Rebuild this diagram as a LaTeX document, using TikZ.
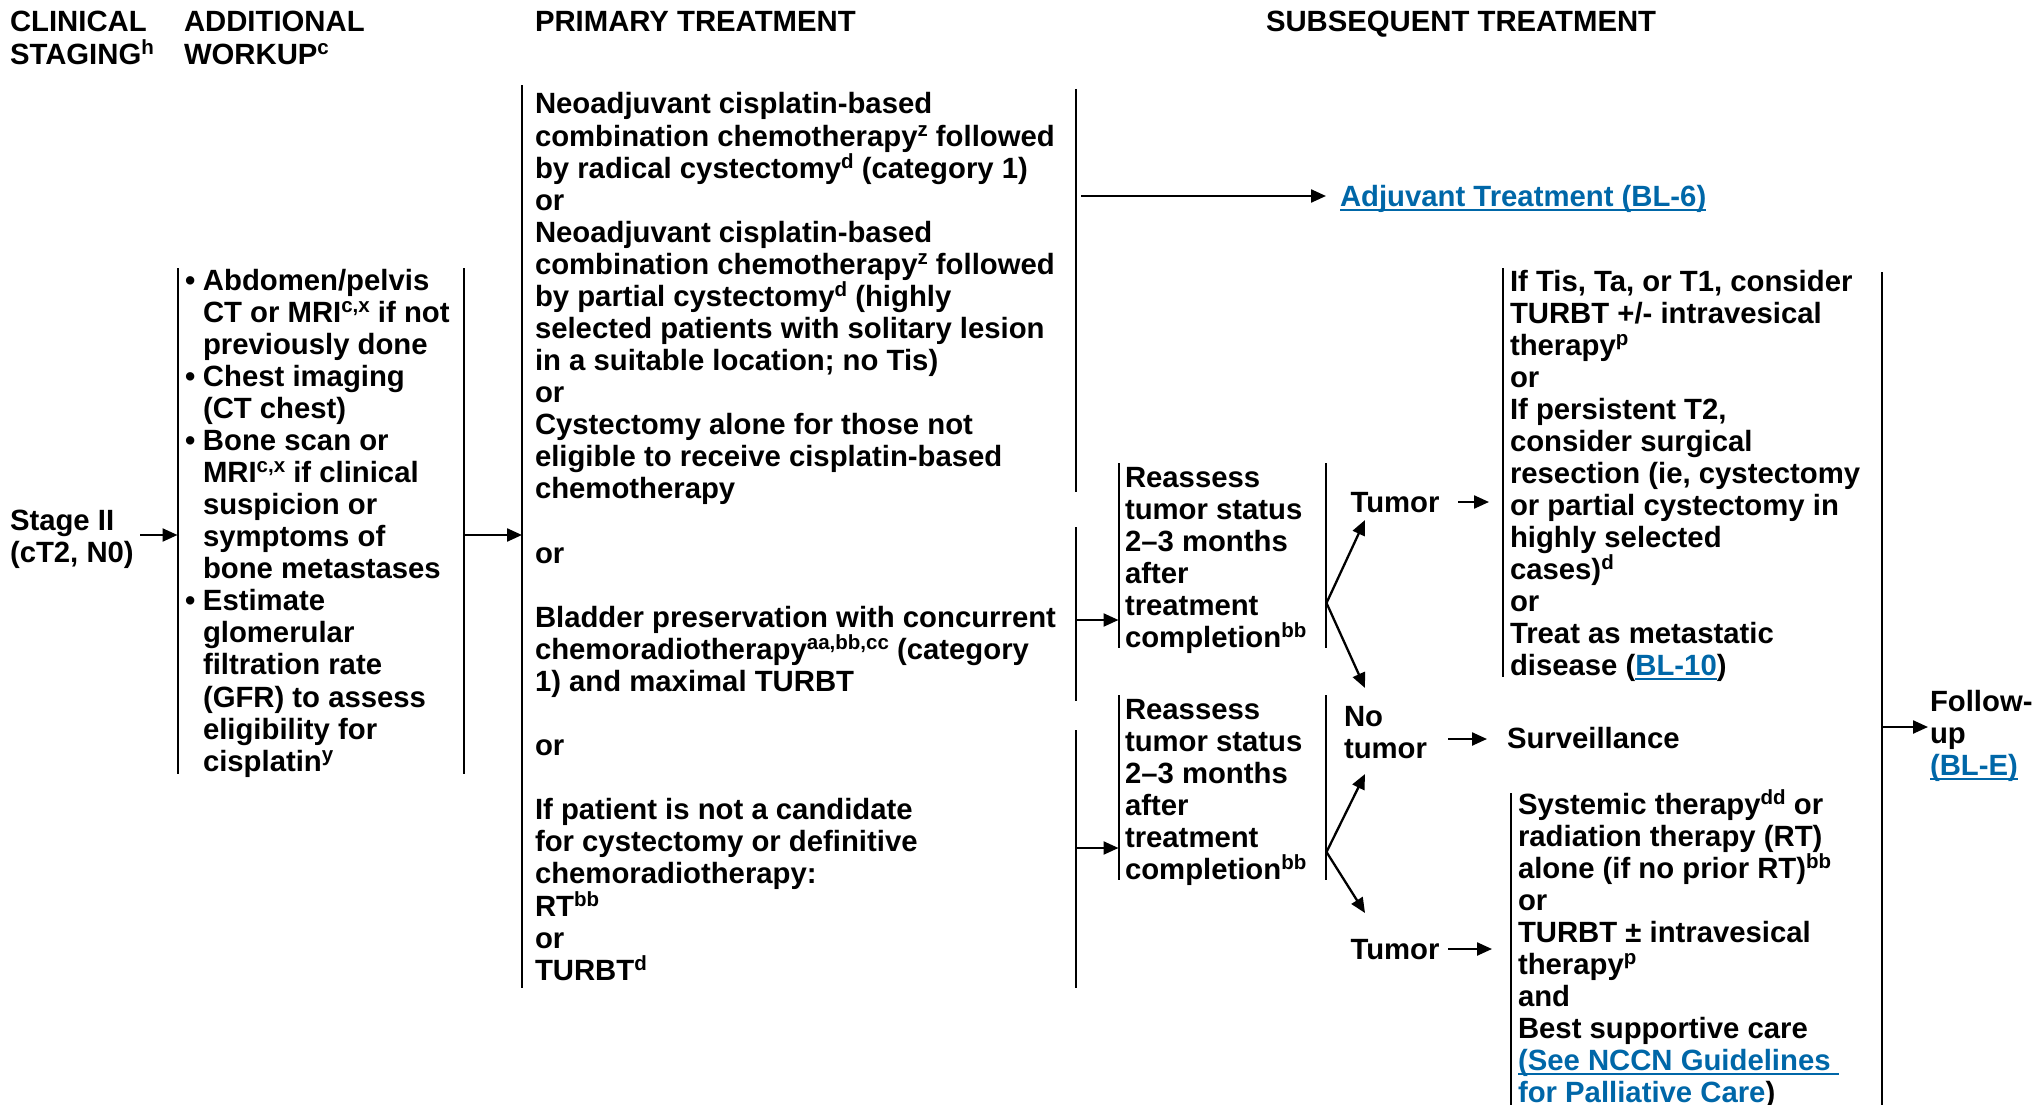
\documentclass[tikz,border=0pt]{standalone}
\usepackage{fontspec}
\setmainfont{Liberation Sans}
\usetikzlibrary{arrows.meta}
\definecolor{linkblue}{RGB}{0,103,168}
\newcommand\lnk[1]{\leavevmode{\color{linkblue}\setbox0=\hbox{#1}\rlap{\rule[-4.5pt]{\wd0}{2pt}}\box0}}
\newcommand\sps[1]{\raisebox{10pt}{\fontsize{20.5}{20}\selectfont #1}}
\newcommand\blk[2]{\parbox[t]{#1}{\raggedright\lineskiplimit=-40pt #2}}
\newcommand\ind{\hspace*{18pt}}
\newcommand\bul{\makebox[18pt][l]{•}}
\begin{document}
\begin{tikzpicture}[x=1pt,y=-1pt,
  every node/.style={inner sep=0pt,outer sep=0pt,anchor=base west,
    font=\bfseries\fontsize{29.3}{32.08}\selectfont},
  bar/.style={line width=2pt},
  arr/.style={line width=2.3pt,-{Triangle[length=15pt,width=13pt]}}]
\useasboundingbox (0,0) rectangle (2032,1105);

% headers
\node (hstage) at (10,32) {\blk{170pt}{CLINICAL\\STAGING\sps{h}}};
\node (hwork) at (184,32) {\blk{300pt}{ADDITIONAL\\WORKUP\sps{c}}};
\node (hprim) at (535,32) {PRIMARY TREATMENT};
\node (hsub) at (1266,32) {SUBSEQUENT TREATMENT};

% stage
\node (stage) at (10,530) {\blk{130pt}{Stage II\\(cT2, N0)}};

% workup
\coordinate (wkLt) at (177.5,268); \coordinate (wkLb) at (177.5,774);
\coordinate (wkRt) at (464,268);   \coordinate (wkRb) at (464,774);
\draw[bar] (wkLt) -- (wkLb);
\draw[bar] (wkRt) -- (wkRb);
\node (work) at (185,290) {\blk{320pt}{\bul Abdomen/pelvis\\\ind CT or MRI\sps{c,x} if not\\\ind previously done\\\bul Chest imaging\\\ind (CT chest)\\\bul Bone scan or\\\ind MRI\sps{c,x} if clinical\\\ind suspicion or\\\ind symptoms of\\\ind bone metastases\\\bul Estimate\\\ind glomerular\\\ind filtration rate\\\ind (GFR) to assess\\\ind eligibility for\\\ind cisplatin\sps{y}}};
\coordinate (wkIn) at (177.5,535);
\coordinate (wkOut) at (464,535);
\draw[arr] (stage.east |- wkIn) -- (wkIn);

% primary
\coordinate (prLt) at (522,85.5); \coordinate (prLb) at (522,987.5);
\draw[bar] (prLt) -- (prLb);
\coordinate (prIn) at (522,535);
\draw[arr] (wkOut) -- (prIn);
\node (p1) at (535,114) {\blk{600pt}{Neoadjuvant cisplatin-based\\combination chemotherapy\sps{z} followed\\by radical cystectomy\sps{d} (category 1)\\or\\Neoadjuvant cisplatin-based\\combination chemotherapy\sps{z} followed\\by partial cystectomy\sps{d} (highly\\selected patients with solitary lesion\\in a suitable location; no Tis)\\or\\Cystectomy alone for those not\\eligible to receive cisplatin-based\\chemotherapy}};
\node (or1) at (535,563.1) {or};
\node (p2) at (535,627.3) {\blk{600pt}{Bladder preservation with concurrent\\chemoradiotherapy\sps{aa,bb,cc} (category\\1) and maximal TURBT}};
\node (or2) at (535,755.6) {or};
\node (p3) at (535,819.8) {\blk{600pt}{If patient is not a candidate\\for cystectomy or definitive\\chemoradiotherapy:\\RT\sps{bb}\\or\\TURBT\sps{d}}};

% primary right brackets
\coordinate (b1t) at (1076,89);  \coordinate (b1b) at (1076,492);
\coordinate (b2t) at (1076,527); \coordinate (b2b) at (1076,701);
\coordinate (b3t) at (1076,730); \coordinate (b3b) at (1076,987.5);
\draw[bar] (b1t) -- (b1b);
\draw[bar] (b2t) -- (b2b);
\draw[bar] (b3t) -- (b3b);

% adjuvant
\node (adj) at (1340,206.5) {\lnk{Adjuvant Treatment (BL-6)}};
\coordinate (adjOut) at (1081,196);
\coordinate (adjIn) at (1326,196);
\draw[arr] (adjOut) -- (adjIn);

% reassess boxes
\coordinate (r1Lt) at (1118.5,463); \coordinate (r1Lb) at (1118.5,648);
\coordinate (r1Rt) at (1325.5,463); \coordinate (r1Rb) at (1325.5,648);
\coordinate (r2Lt) at (1118.5,695); \coordinate (r2Lb) at (1118.5,880);
\coordinate (r2Rt) at (1325.5,695); \coordinate (r2Rb) at (1325.5,880);
\draw[bar] (r1Lt) -- (r1Lb);
\draw[bar] (r1Rt) -- (r1Rb);
\draw[bar] (r2Lt) -- (r2Lb);
\draw[bar] (r2Rt) -- (r2Rb);
\node (r1) at (1125,487) {\blk{240pt}{Reassess\\tumor status\\2–3 months\\after\\treatment\\completion\sps{bb}}};
\node (r2) at (1125,719.5) {\blk{240pt}{Reassess\\tumor status\\2–3 months\\after\\treatment\\completion\sps{bb}}};
\coordinate (b2o) at (1076,620);  \coordinate (r1In) at (1118.5,620);
\coordinate (b3o) at (1076,848);  \coordinate (r2In) at (1118.5,848);
\draw[arr] (b2o) -- (r1In);
\draw[arr] (b3o) -- (r2In);

% outcomes
\node (tum1) at (1350.5,512.7) {Tumor};
\node (notum) at (1344,726.7) {\blk{110pt}{No\\tumor}};
\node (tum2) at (1350.5,959) {Tumor};
\coordinate (f1) at (1326.5,603);
\coordinate (f2) at (1326.5,852);
\coordinate (f1u) at (1365,520); \coordinate (f1d) at (1365,688);
\coordinate (f2u) at (1365,774); \coordinate (f2d) at (1365,913);
\draw[arr] (f1) -- (f1u);
\draw[arr] (f1) -- (f1d);
\draw[arr] (f2) -- (f2u);
\draw[arr] (f2) -- (f2d);

% options box 1
\coordinate (o1t) at (1502.5,268); \coordinate (o1b) at (1502.5,677);
\draw[bar] (o1t) -- (o1b);
\node (opt1) at (1510,291) {\blk{450pt}{If Tis, Ta, or T1, consider\\TURBT +/- intravesical\\therapy\sps{p}\\or\\If persistent T2,\\consider surgical\\resection (ie, cystectomy\\or partial cystectomy in\\highly selected\\cases)\sps{d}\\or\\Treat as metastatic\\disease (\lnk{BL-10})}};
\coordinate (t1a) at (1458,502); \coordinate (t1b) at (1489,502);
\draw[arr] (t1a) -- (t1b);

% surveillance
\node (surv) at (1507,748) {Surveillance};
\coordinate (s1a) at (1448,739); \coordinate (s1b) at (1487,739);
\draw[arr] (s1a) -- (s1b);

% options box 2
\coordinate (o2t) at (1510.7,793); \coordinate (o2b) at (1510.7,1105);
\draw[bar] (o2t) -- (o2b);
\node (opt2) at (1518,814) {\blk{450pt}{Systemic therapy\sps{dd} or\\radiation therapy (RT)\\alone (if no prior RT)\sps{bb}\\or\\TURBT ± intravesical\\therapy\sps{p}\\and\\Best supportive care\\\lnk{(See NCCN Guidelines }\\\lnk{for Palliative Care})}};
\coordinate (t2a) at (1448,949); \coordinate (t2b) at (1492,949);
\draw[arr] (t2a) -- (t2b);

% follow-up
\coordinate (fut) at (1882,272); \coordinate (fub) at (1882,1105);
\draw[bar] (fut) -- (fub);
\node (fu) at (1930,711) {\blk{110pt}{Follow-\\up\\\lnk{(BL-E)}}};
\coordinate (fuIn) at (1882,727); \coordinate (fuTip) at (1928,727);
\draw[arr] (fuIn) -- (fuTip);
\end{tikzpicture}
\end{document}
